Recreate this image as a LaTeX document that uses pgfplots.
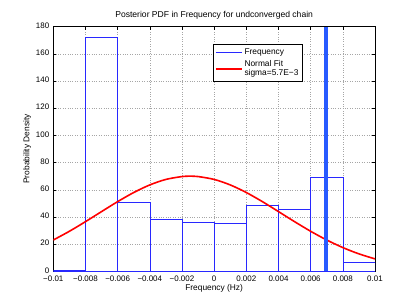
\documentclass[border=0pt]{standalone}
\usepackage{fontspec}
\setmainfont{Liberation Sans}
\usepackage{pgfplots}
\pgfplotsset{compat=1.18}
\definecolor{histblue}{RGB}{40,40,255}
\definecolor{lineblue}{RGB}{40,90,255}
\begin{document}
\begin{tikzpicture}[font=\fontsize{8}{9.6}\selectfont]
\begin{axis}[
  scale only axis,
  width=321.7bp, height=244.6bp,
  xmin=-0.01, xmax=0.01, ymin=0, ymax=180,
  scaled x ticks=false,
  xtick={-0.01,-0.008,-0.006,-0.004,-0.002,0,0.002,0.004,0.006,0.008,0.01},
  xticklabels={−0.01,−0.008,−0.006,−0.004,−0.002,0,0.002,0.004,0.006,0.008,0.01},
  xticklabel style={yshift=-1bp},
  yticklabel style={xshift=-0.5bp, yshift=1bp},
  ytick={0,20,...,180},
  /pgf/number format/assume math mode=true,
  tick align=inside,
  major tick length=3bp,
  grid=major,
  major grid style={gray!70, dotted},
  axis line style={black, line width=0.5bp},
  tick style={black, line width=0.4bp},
  title={Posterior PDF in Frequency for undconverged chain},
  title style={yshift=-2bp, font=\fontsize{8.6}{10}\selectfont},
  xlabel={Frequency (Hz)},
  ylabel={Probability Density},
  xlabel style={yshift=4bp, font=\fontsize{8.4}{10}\selectfont},
  ylabel style={yshift=-2bp, font=\fontsize{8.4}{10}\selectfont},
  legend style={at={(0.4955,0.928)}, anchor=north west, draw=black, line width=0.5bp,
    font=\fontsize{8.4}{9}\selectfont, cells={align=left}, inner sep=2bp,
    row sep=1bp},
  legend cell align=left,
  legend image code/.code={\draw[#1] (0bp,0bp) -- (26bp,0bp);},
]
\addlegendimage{histblue, line width=0.6bp}
\addlegendentry{Frequency}
\addlegendimage{red, line width=1.6bp}
\addlegendentry{Normal Fit\\sigma=5.7E−3}
\addplot[ybar interval, draw=histblue, fill=none, line width=0.6bp, forget plot] coordinates {
  (-0.010,1) (-0.008,172) (-0.006,51) (-0.004,38) (-0.002,36)
  (0.000,35) (0.002,48.5) (0.004,45.5) (0.006,69) (0.008,6.5) (0.010,6.5)
};
\addplot[red, line width=1.6bp, smooth, forget plot] coordinates {
  (-0.010,23.03) (-0.009,29.45) (-0.008,36.53) (-0.007,43.94) (-0.006,51.26)
  (-0.005,57.97) (-0.004,63.57) (-0.003,67.61) (-0.002,69.72) (-0.0015,69.99)
  (-0.001,69.72) (0.000,67.61) (0.001,63.57) (0.002,57.97) (0.003,51.26)
  (0.004,43.94) (0.005,36.53) (0.006,29.45) (0.007,23.03) (0.008,17.46)
  (0.009,12.83) (0.010,9.14)
};
\addplot[lineblue, line width=3.6bp, forget plot] coordinates {(0.00697,0) (0.00697,180)};
\end{axis}
\pgfresetboundingbox
\path (current axis.south west) ++(-53.3bp,-28.7bp) rectangle ++(415bp,300bp);
\end{tikzpicture}
\end{document}
